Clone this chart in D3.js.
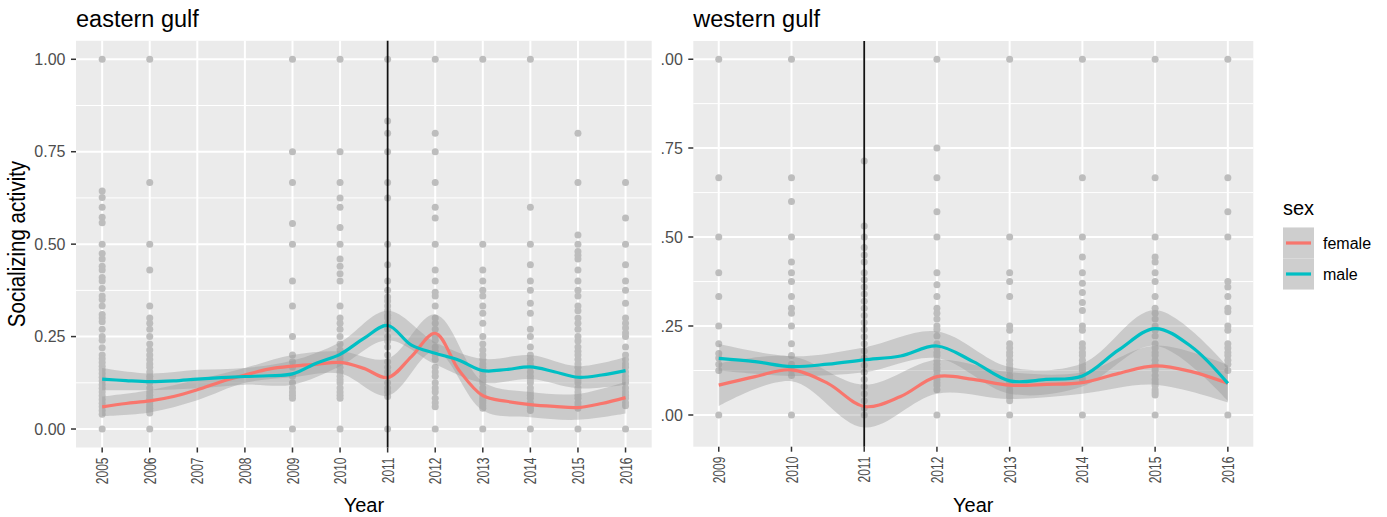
<!DOCTYPE html>
<html>
<head>
<meta charset="utf-8">
<script src="https://cdn.jsdelivr.net/npm/d3@7"></script>
<style>
  body { margin: 0; background: #fff; }
  svg { font-family: "Liberation Sans", Arial, Helvetica, sans-serif; }
</style>
</head>
<body>
<svg id="chart" width="1387" height="517"></svg>
<script>
//-----------------------------------------------------//
// data

const eastYears = [2005, 2006, 2007, 2008, 2009, 2010, 2011, 2012, 2013, 2014, 2015, 2016];
const westYears = [2009, 2010, 2011, 2012, 2013, 2014, 2015, 2016];
const yTicks = [0, 0.25, 0.5, 0.75, 1];
const yTickLabels = ["0.00", "0.25", "0.50", "0.75", "1.00"];
const sexes = ["female", "male"];
const sexColors = ["#F8766D", "#00BFC4"];

// raw observations, per year
const eastDots = [
  [2005, [1, 0.644, 0.626, 0.6, 0.573, 0.558, 0.5, 0.475, 0.46, 0.44, 0.43, 0.41, 0.4, 0.38, 0.36, 0.35, 0.333, 0.31, 0.3, 0.29, 0.27, 0.25, 0.24, 0.22, 0.2, 0.19, 0.18, 0.17, 0.16, 0.15, 0.14, 0.13, 0.12, 0.11, 0.1, 0.09, 0.08, 0.07, 0.06, 0.05, 0.04, 0]],
  [2006, [1, 0.667, 0.5, 0.43, 0.333, 0.3, 0.286, 0.27, 0.25, 0.23, 0.214, 0.2, 0.188, 0.176, 0.167, 0.154, 0.143, 0.133, 0.125, 0.111, 0.1, 0.091, 0.083, 0.077, 0.071, 0.063, 0.056, 0.05, 0.043, 0]],
  [2007, []],
  [2008, []],
  [2009, [1, 0.75, 0.667, 0.556, 0.5, 0.4, 0.333, 0.25, 0.2, 0.182, 0.167, 0.143, 0.125, 0.111, 0.1, 0.091, 0.083, 0]],
  [2010, [1, 0.75, 0.667, 0.625, 0.6, 0.545, 0.5, 0.46, 0.44, 0.42, 0.4, 0.333, 0.3, 0.286, 0.27, 0.25, 0.23, 0.214, 0.2, 0.19, 0.18, 0.167, 0.154, 0.143, 0.133, 0.125, 0.111, 0.1, 0.091, 0.083, 0]],
  [2011, [1, 0.833, 0.8, 0.75, 0.667, 0.625, 0.5, 0.444, 0.4, 0.375, 0.357, 0.346, 0.333, 0.32, 0.308, 0.3, 0.286, 0.27, 0.25, 0.238, 0.222, 0.2, 0.182, 0.167, 0.154, 0.143, 0.125, 0.111, 0.1, 0.088, 0]],
  [2012, [1, 0.8, 0.75, 0.667, 0.6, 0.571, 0.5, 0.43, 0.4, 0.37, 0.36, 0.333, 0.3, 0.286, 0.27, 0.25, 0.24, 0.222, 0.21, 0.2, 0.188, 0.167, 0.154, 0.143, 0.125, 0.111, 0.1, 0.083, 0.071, 0.06, 0]],
  [2013, [1, 0.5, 0.43, 0.4, 0.375, 0.36, 0.333, 0.313, 0.286, 0.25, 0.23, 0.214, 0.2, 0.188, 0.176, 0.167, 0.154, 0.143, 0.133, 0.125, 0.111, 0.1, 0.091, 0.083, 0.077, 0.071, 0.063, 0.056, 0]],
  [2014, [1, 0.6, 0.5, 0.444, 0.4, 0.375, 0.34, 0.313, 0.27, 0.25, 0.222, 0.2, 0.188, 0.176, 0.167, 0.154, 0.143, 0.133, 0.125, 0.111, 0.1, 0.091, 0.083, 0.071, 0.063, 0.056, 0.05, 0]],
  [2015, [0.8, 0.667, 0.525, 0.5, 0.48, 0.47, 0.46, 0.43, 0.4, 0.375, 0.36, 0.333, 0.32, 0.3, 0.286, 0.27, 0.25, 0.238, 0.222, 0.21, 0.2, 0.188, 0.176, 0.167, 0.154, 0.143, 0.133, 0.125, 0.111, 0.1, 0.091, 0.083, 0.071, 0.063, 0.056, 0]],
  [2016, [0.667, 0.571, 0.5, 0.444, 0.4, 0.375, 0.34, 0.3, 0.286, 0.273, 0.26, 0.25, 0.222, 0.2, 0.188, 0.176, 0.167, 0.154, 0.143, 0.133, 0.125, 0.111, 0.1, 0.091, 0.083, 0.071, 0.063, 0]]
];

const westDots = [
  [2009, [1, 0.667, 0.5, 0.4, 0.333, 0.25, 0.2, 0.173, 0.16, 0.143, 0.125, 0]],
  [2010, [1, 0.667, 0.6, 0.5, 0.43, 0.4, 0.375, 0.333, 0.3, 0.286, 0.25, 0.2, 0.167, 0.143, 0.125, 0.111, 0]],
  [2011, [0.714, 0.531, 0.5, 0.471, 0.45, 0.43, 0.4, 0.38, 0.36, 0.34, 0.32, 0.3, 0.28, 0.26, 0.24, 0.22, 0.2, 0.18, 0.16, 0.14, 0.12, 0.1, 0.08, 0.06, 0.04, 0.02, 0]],
  [2012, [1, 0.75, 0.667, 0.571, 0.5, 0.4, 0.366, 0.333, 0.3, 0.286, 0.27, 0.25, 0.24, 0.222, 0.2, 0.188, 0.176, 0.167, 0.154, 0.143, 0.133, 0.125, 0.111, 0.1, 0.091, 0.083, 0.071, 0]],
  [2013, [1, 0.5, 0.4, 0.375, 0.333, 0.25, 0.238, 0.2, 0.188, 0.176, 0.167, 0.154, 0.143, 0.133, 0.125, 0.111, 0.1, 0.091, 0.083, 0.071, 0.063, 0.056, 0.05, 0.04, 0]],
  [2014, [1, 0.667, 0.5, 0.444, 0.4, 0.37, 0.344, 0.316, 0.294, 0.25, 0.238, 0.2, 0.188, 0.176, 0.167, 0.154, 0.143, 0.133, 0.125, 0.111, 0.1, 0]],
  [2015, [1, 0.667, 0.5, 0.444, 0.43, 0.4, 0.375, 0.333, 0.3, 0.286, 0.27, 0.25, 0.238, 0.222, 0.2, 0.188, 0.176, 0.167, 0.154, 0.143, 0.133, 0.125, 0.111, 0.1, 0.091, 0.083, 0.071, 0.063, 0.056, 0]],
  [2016, [1, 0.667, 0.571, 0.5, 0.375, 0.36, 0.333, 0.3, 0.29, 0.25, 0.238, 0.2, 0.188, 0.176, 0.167, 0.154, 0.143, 0.125, 0]]
];

// smoothed fits (loess lines), read every half year
const eastSmoothX = [2005, 2005.5, 2006, 2006.5, 2007, 2007.5, 2008, 2008.5, 2009, 2009.5, 2010, 2010.5, 2011, 2011.5, 2012, 2012.5, 2013, 2013.5, 2014, 2014.5, 2015, 2015.5, 2016];
const eastFemale = [0.06, 0.069, 0.076, 0.088, 0.106, 0.128, 0.146, 0.162, 0.17, 0.175, 0.18, 0.164, 0.139, 0.196, 0.259, 0.159, 0.09, 0.075, 0.066, 0.061, 0.058, 0.069, 0.085];
const eastMale = [0.135, 0.131, 0.128, 0.13, 0.135, 0.139, 0.142, 0.144, 0.149, 0.178, 0.202, 0.245, 0.28, 0.227, 0.205, 0.186, 0.158, 0.161, 0.168, 0.155, 0.14, 0.146, 0.158];

// confidence bands, read at each year
const eastFemaleLo = [0.035, 0.045, 0.078, 0.125, 0.14, 0.15, 0.09, 0.21, 0.05, 0.032, 0.025, 0.042];
const eastFemaleHi = [0.088, 0.105, 0.133, 0.165, 0.2, 0.21, 0.19, 0.31, 0.128, 0.1, 0.095, 0.128];
const eastMaleLo = [0.105, 0.105, 0.11, 0.12, 0.12, 0.17, 0.24, 0.175, 0.125, 0.135, 0.11, 0.12];
const eastMaleHi = [0.165, 0.15, 0.16, 0.165, 0.185, 0.235, 0.32, 0.235, 0.19, 0.2, 0.17, 0.195];

const westSmoothX = [2009, 2009.5, 2010, 2010.5, 2011, 2011.5, 2012, 2012.5, 2013, 2013.5, 2014, 2014.5, 2015, 2015.5, 2016];
const westFemale = [0.084, 0.108, 0.127, 0.089, 0.024, 0.052, 0.108, 0.1, 0.084, 0.086, 0.091, 0.117, 0.138, 0.122, 0.089];
const westMale = [0.159, 0.15, 0.136, 0.143, 0.155, 0.166, 0.194, 0.15, 0.096, 0.1, 0.11, 0.183, 0.243, 0.192, 0.089];

const westFemaleLo = [0.025, 0.095, -0.035, 0.06, 0.045, 0.06, 0.085, 0.035];
const westFemaleHi = [0.145, 0.165, 0.085, 0.155, 0.12, 0.12, 0.195, 0.14];
const westMaleLo = [0.125, 0.11, 0.12, 0.16, 0.06, 0.08, 0.195, 0.04];
const westMaleHi = [0.2, 0.165, 0.19, 0.235, 0.135, 0.145, 0.295, 0.135];

const eventYear = 2011;

//-----------------------------------------------------//

const svg = d3.select("#chart");

function drawPanel(opt)
{
  const x = d3.scaleLinear().domain(opt.xDomain).range([opt.left, opt.right]);
  const y = d3.scaleLinear().domain(opt.yDomain).range([opt.bottom, opt.top]);

  const g = svg.append("g");

  // panel background
  g.append("rect")
    .attr("x", opt.left).attr("y", opt.top)
    .attr("width", opt.right - opt.left).attr("height", opt.bottom - opt.top)
    .attr("fill", "#EBEBEB");

  // minor y grid
  const minor = [];
  for (let i = 0; i < yTicks.length - 1; i++) minor.push((yTicks[i] + yTicks[i + 1]) / 2);
  minor.push(yTicks[0] - 0.125);
  g.selectAll(".minor")
    .data(minor.filter(v => y(v) < opt.bottom && y(v) > opt.top))
    .enter().append("line")
    .attr("x1", opt.left).attr("x2", opt.right)
    .attr("y1", d => y(d)).attr("y2", d => y(d))
    .attr("stroke", "#fff").attr("stroke-width", 1);

  // major grid
  g.selectAll(".hmajor")
    .data(yTicks)
    .enter().append("line")
    .attr("x1", opt.left).attr("x2", opt.right)
    .attr("y1", d => y(d)).attr("y2", d => y(d))
    .attr("stroke", "#fff").attr("stroke-width", 2);
  g.selectAll(".vmajor")
    .data(opt.years)
    .enter().append("line")
    .attr("y1", opt.top).attr("y2", opt.bottom)
    .attr("x1", d => x(d)).attr("x2", d => x(d))
    .attr("stroke", "#fff").attr("stroke-width", 2);

  // observations
  const pts = [];
  opt.dots.forEach(function(d) { d[1].forEach(v => pts.push([d[0], v])); });
  g.selectAll(".pt")
    .data(pts)
    .enter().append("circle")
    .attr("cx", d => x(d[0])).attr("cy", d => y(d[1]))
    .attr("r", 3.5)
    .attr("fill", "#BDBDBD");

  // ribbons
  opt.bands.forEach(function(b) {
    const area = d3.area()
      .x((d, i) => x(opt.years[i]))
      .y0((d, i) => y(b.lo[i]))
      .y1((d, i) => y(b.hi[i]))
      .curve(d3.curveCatmullRom);
    g.append("path")
      .attr("d", area(b.lo))
      .attr("fill", "#999999")
      .attr("fill-opacity", 0.4);
  });

  // fitted lines
  opt.lines.forEach(function(l, k) {
    const line = d3.line()
      .x((d, i) => x(opt.smoothX[i]))
      .y(d => y(d))
      .curve(d3.curveCatmullRom);
    g.append("path")
      .attr("d", line(l))
      .attr("fill", "none")
      .attr("stroke", sexColors[k])
      .attr("stroke-width", 3.2);
  });

  // event line
  g.append("line")
    .attr("x1", x(eventYear)).attr("x2", x(eventYear))
    .attr("y1", opt.top).attr("y2", opt.bottom)
    .attr("stroke", "#111").attr("stroke-width", 1.8);

  // y axis
  const yAxisG = g.append("g");
  if (opt.clipLeft)
  {
    svg.append("clipPath").attr("id", opt.id + "-clip")
      .append("rect").attr("x", opt.clipLeft).attr("y", 0).attr("width", 200).attr("height", 517);
    yAxisG.attr("clip-path", `url(#${opt.id}-clip)`);
  }
  yTicks.forEach(function(v, i) {
    yAxisG.append("line")
      .attr("x1", opt.left - 5).attr("x2", opt.left)
      .attr("y1", y(v)).attr("y2", y(v))
      .attr("stroke", "#333").attr("stroke-width", 1.5);
    yAxisG.append("text")
      .attr("x", opt.left - 10.5).attr("y", y(v))
      .attr("dy", "0.36em")
      .attr("text-anchor", "end")
      .attr("font-size", 16)
      .attr("fill", "#4D4D4D")
      .text(yTickLabels[i]);
  });

  // x axis
  opt.years.forEach(function(yr) {
    g.append("line")
      .attr("x1", x(yr)).attr("x2", x(yr))
      .attr("y1", opt.bottom).attr("y2", opt.bottom + 5)
      .attr("stroke", "#333").attr("stroke-width", 1.5);
    g.append("text")
      .attr("transform", `translate(${x(yr)},${opt.bottom + 10}) scale(1.4,1) rotate(-90)`)
      .attr("dy", "0.36em")
      .attr("text-anchor", "end")
      .attr("font-size", 12)
      .attr("fill", "#4D4D4D")
      .text(yr);
  });

  g.append("text")
    .attr("x", (opt.left + opt.right) / 2).attr("y", 512)
    .attr("text-anchor", "middle")
    .attr("font-size", 20)
    .attr("fill", "#000")
    .text("Year");

  g.append("text")
    .attr("x", opt.left).attr("y", 27)
    .attr("font-size", 23.5)
    .attr("fill", "#000")
    .text(opt.title);
}

drawPanel({
  id: "east", title: "eastern gulf",
  left: 76, right: 651.7, top: 40.8, bottom: 447.5,
  xDomain: [2004.45, 2016.55], yDomain: [-0.05, 1.05],
  years: eastYears, dots: eastDots, smoothX: eastSmoothX,
  lines: [eastFemale, eastMale],
  bands: [{lo: eastFemaleLo, hi: eastFemaleHi}, {lo: eastMaleLo, hi: eastMaleHi}]
});

drawPanel({
  id: "west", title: "western gulf",
  left: 693.3, right: 1253.3, top: 41, bottom: 446.7,
  xDomain: [2008.65, 2016.35], yDomain: [-0.089, 1.051],
  years: westYears, dots: westDots, smoothX: westSmoothX,
  lines: [westFemale, westMale],
  bands: [{lo: westFemaleLo, hi: westFemaleHi}, {lo: westMaleLo, hi: westMaleHi}],
  clipLeft: 661.2
});

// y axis title
svg.append("text")
  .attr("transform", "translate(25,244) scale(1.15,1) rotate(-90)")
  .attr("text-anchor", "middle")
  .attr("font-size", 20.5)
  .attr("fill", "#000")
  .text("Socializing activity");

// legend
const legend = svg.append("g").attr("transform", "translate(1283,0)");
legend.append("text")
  .attr("x", 0).attr("y", 215)
  .attr("font-size", 20)
  .attr("fill", "#000")
  .text("sex");
sexes.forEach(function(s, i) {
  const ky = 227.5 + i * 31;
  legend.append("rect")
    .attr("x", 0).attr("y", ky).attr("width", 31).attr("height", 31)
    .attr("fill", "#F2F2F2");
  legend.append("rect")
    .attr("x", 0).attr("y", ky).attr("width", 31).attr("height", 31)
    .attr("fill", "#999999").attr("fill-opacity", 0.4);
  legend.append("line")
    .attr("x1", 3).attr("x2", 28)
    .attr("y1", ky + 15.5).attr("y2", ky + 15.5)
    .attr("stroke", sexColors[i]).attr("stroke-width", 3.2);
  legend.append("text")
    .attr("x", 40).attr("y", ky + 15.5)
    .attr("dy", "0.36em")
    .attr("font-size", 16)
    .attr("fill", "#000")
    .text(s);
});
</script>
</body>
</html>
